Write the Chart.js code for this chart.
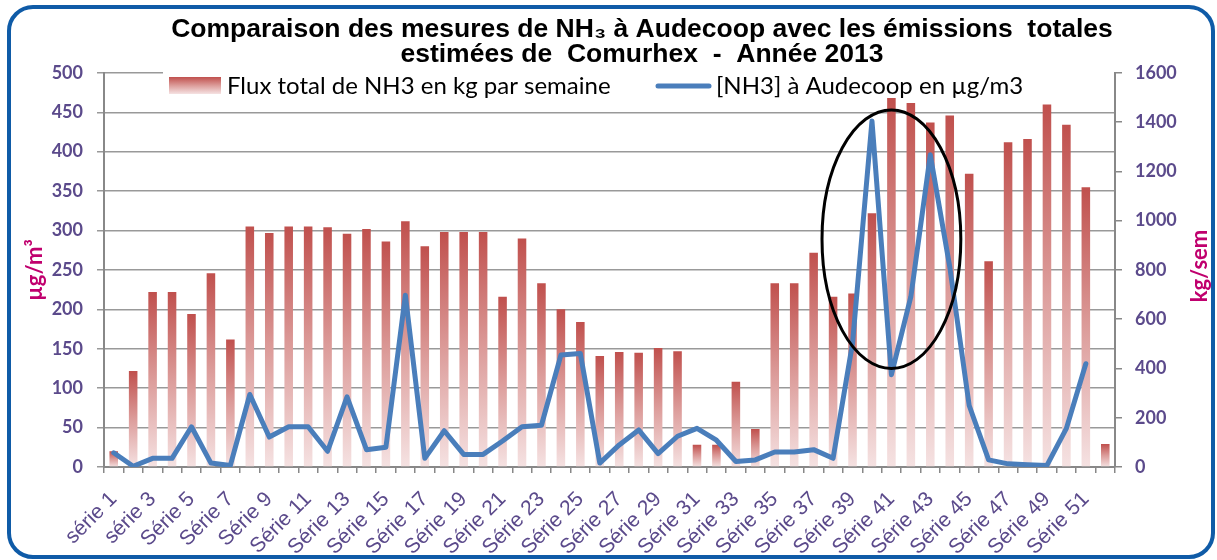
<!DOCTYPE html>
<html>
<head>
<meta charset="utf-8">
<script src="https://cdn.jsdelivr.net/npm/chart.js@4.4.1/dist/chart.umd.min.js"></script>
<style>
html,body{margin:0;padding:0;background:#fff;}
#wrap{width:1217px;height:560px;}
</style>
</head>
<body>
<div id="wrap"><canvas id="c" width="1217" height="560"></canvas></div>
<script>
// ---------- DATA ----------
const categories = [
  'série 1','série 2','série 3','série 4','Série 5','Série 6','Série 7','Série 8','Série 9','Série 10',
  'Série 11','Série 12','Série 13','Série 14','Série 15','Série 16','Série 17','Série 18','Série 19','Série 20',
  'Série 21','Série 22','Série 23','Série 24','Série 25','Série 26','Série 27','Série 28','Série 29','Série 30',
  'Série 31','Série 32','Série 33','Série 34','Série 35','Série 36','Série 37','Série 38','Série 39','Série 40',
  'Série 41','Série 42','Série 43','Série 44','Série 45','Série 46','Série 47','Série 48','Série 49','Série 50',
  'Série 51','Série 52'
];
// Flux total de NH3 (kg / semaine) - right axis
const fluxKgPerWeek = [
  64, 390, 710, 710, 621, 787, 518, 976, 950, 976,
  976, 973, 947, 966, 915, 998, 896, 954, 954, 954,
  691, 928, 746, 640, 589, 451, 467, 464, 483, 470,
  90, 90, 346, 154, 746, 746, 870, 691, 704, 1030,
  1498, 1478, 1398, 1427, 1190, 835, 1318, 1331, 1472, 1389,
  1136, 93
];
// [NH3] à Audecoop (µg/m3) - left axis
const nh3Audecoop = [
  18, 1, 11, 11, 51, 5, 2, 92, 38, 51,
  51, 20, 89, 22, 25, 218, 11, 46, 16, 16,
  33, 51, 53, 142, 144, 5, 28, 47, 17, 39,
  49, 34, 7, 9, 19, 19, 22, 11, 157, 439,
  117, 216, 396, 254, 78, 9, 4, 3, 2, 49,
  131, null
];
const leftAxis = { min: 0, max: 500, step: 50 };
const rightAxis = { min: 0, max: 1600, step: 200 };
const titleLines = [
  'Comparaison des mesures de NH\u2083 à Audecoop avec les émissions  totales',
  'estimées de  Comurhex  -  Année 2013'
];
const legendLabels = ['Flux total de NH3 en kg par semaine', '[NH3] à Audecoop en µg/m3'];
// highlight ellipse, in scale units (category index / µg/m3)
const highlight = { centerIndex: 40, halfWidthCategories: 3.57, top: 453, bottom: 125 };

// ---------- STYLE ----------
const PURPLE = '#5b4a8b';
const MAGENTA = '#c0006e';
const GRID = '#999999';
const AXIS = '#888888';
const LINE_BLUE = '#4a7ebb';
const FRAME = '#0f5ba7';

function barGradient(c, top, bottom) {
  const g = c.createLinearGradient(0, top, 0, bottom);
  g.addColorStop(0, '#c0504d');
  g.addColorStop(0.5, '#dc9c9a');
  g.addColorStop(1, '#f5e2e2');
  return g;
}

const decor = {
  id: 'decor',
  beforeDraw(chart) {
    const c = chart.ctx;
    c.save();
    c.fillStyle = '#fff';
    c.fillRect(0, 0, chart.width, chart.height);
    c.restore();
  },
  afterLayout(chart) {
    const t = chart.titleBlock;
    if (t) { t.left = 67; t.right = chart.width; }
  },
  afterDatasetsDraw(chart) {
    const c = chart.ctx, xs = chart.scales.x, ys = chart.scales.y;
    const cx = xs.getPixelForValue(highlight.centerIndex);
    const catW = xs.getPixelForValue(1) - xs.getPixelForValue(0);
    const yt = ys.getPixelForValue(highlight.top), yb = ys.getPixelForValue(highlight.bottom);
    c.save();
    c.beginPath();
    c.ellipse(cx, (yt + yb) / 2, highlight.halfWidthCategories * catW, (yb - yt) / 2, 0, 0, Math.PI * 2);
    c.lineWidth = 3;
    c.strokeStyle = '#000';
    c.stroke();
    c.restore();
  },
  afterDraw(chart) {
    const c = chart.ctx, area = chart.chartArea;
    c.save();
    // legend
    c.fillStyle = '#fff';
    c.fillRect(163, area.top - 2, area.right - 164, 26);
    c.fillStyle = barGradient(c, 77, 94);
    c.fillRect(169, 77, 52, 17);
    c.font = '24px Lato';
    c.fillStyle = '#000';
    c.textBaseline = 'middle';
    c.textAlign = 'left';
    c.fillText(legendLabels[0], 227, 86);
    c.beginPath();
    c.moveTo(658, 86); c.lineTo(709, 86);
    c.lineWidth = 5; c.lineCap = 'round'; c.strokeStyle = LINE_BLUE;
    c.stroke();
    c.fillText(legendLabels[1], 716, 86);
    // right axis title
    c.translate(1200, 266);
    c.rotate(-Math.PI / 2);
    c.font = 'bold 22px Lato';
    c.fillStyle = MAGENTA;
    c.textAlign = 'center';
    c.fillText('kg/sem', 0, 0);
    c.restore();
    // frame
    c.save();
    c.beginPath();
    c.roundRect(9, 7, 1204, 550, 24);
    c.lineWidth = 4;
    c.strokeStyle = FRAME;
    c.stroke();
    c.restore();
  }
};

Chart.defaults.font.family = 'Lato';

new Chart(document.getElementById('c'), {
  data: {
    labels: categories,
    datasets: [
      {
        type: 'line',
        label: legendLabels[1],
        data: nh3Audecoop,
        yAxisID: 'y',
        borderColor: LINE_BLUE,
        borderWidth: 5,
        borderJoinStyle: 'round',
        borderCapStyle: 'round',
        pointRadius: 0,
        tension: 0,
        spanGaps: false,
        order: 0
      },
      {
        type: 'bar',
        label: legendLabels[0],
        data: fluxKgPerWeek,
        yAxisID: 'y1',
        barPercentage: 0.44,
        categoryPercentage: 1.0,
        backgroundColor: (ctx) => {
          const chart = ctx.chart;
          if (!chart.chartArea || ctx.type !== 'data') return '#c0504d';
          const s = chart.scales.y1;
          return barGradient(chart.ctx, s.getPixelForValue(ctx.raw), s.getPixelForValue(0));
        },
        order: 1
      }
    ]
  },
  options: {
    responsive: false,
    devicePixelRatio: 1,
    animation: false,
    events: [],
    layout: { padding: 0 },
    plugins: {
      legend: { display: false },
      tooltip: { enabled: false },
      title: {
        display: true,
        text: titleLines,
        color: '#000',
        font: { family: "'Liberation Sans', Arial, sans-serif", size: 26.5, weight: 'bold', lineHeight: 0.95 },
        padding: { top: 17, bottom: 5.5 }
      }
    },
    scales: {
      x: {
        type: 'category',
        offset: true,
        grid: { display: true, drawOnChartArea: false, drawTicks: true, tickLength: 6, color: AXIS, lineWidth: 1.5, offset: true },
        border: { display: true, color: AXIS, width: 2 },
        ticks: {
          autoSkip: false, maxRotation: 45, minRotation: 45,
          color: PURPLE, padding: 14,
          font: { family: "'Liberation Sans', Arial, sans-serif", size: 21 },
          callback: function (v, i) { return i % 2 === 0 ? this.getLabelForValue(v) : ''; }
        },
        afterFit: (s) => { s.height = 93; }
      },
      y: {
        position: 'left',
        min: leftAxis.min, max: leftAxis.max,
        grid: { color: GRID, lineWidth: 1.5, tickLength: 7, drawTicks: true },
        border: { display: true, color: AXIS, width: 2 },
        ticks: { stepSize: leftAxis.step, color: PURPLE, padding: 14, font: { size: 18, weight: 'bold' } },
        title: { display: true, text: 'µg/m³', color: MAGENTA, font: { size: 22, weight: 'bold' }, padding: { top: 22, bottom: 0 } },
        afterFit: (s) => { s.width = 104; }
      },
      y1: {
        position: 'right',
        min: rightAxis.min, max: rightAxis.max,
        grid: { drawOnChartArea: false, color: AXIS, lineWidth: 1.5, tickLength: 7, drawTicks: true },
        border: { display: true, color: AXIS, width: 2 },
        ticks: { stepSize: rightAxis.step, color: PURPLE, padding: 13, font: { size: 18, weight: 'bold' }, format: { useGrouping: false } },
        afterFit: (s) => { s.width = 102; }
      }
    }
  },
  plugins: [decor]
});
</script>
</body>
</html>
